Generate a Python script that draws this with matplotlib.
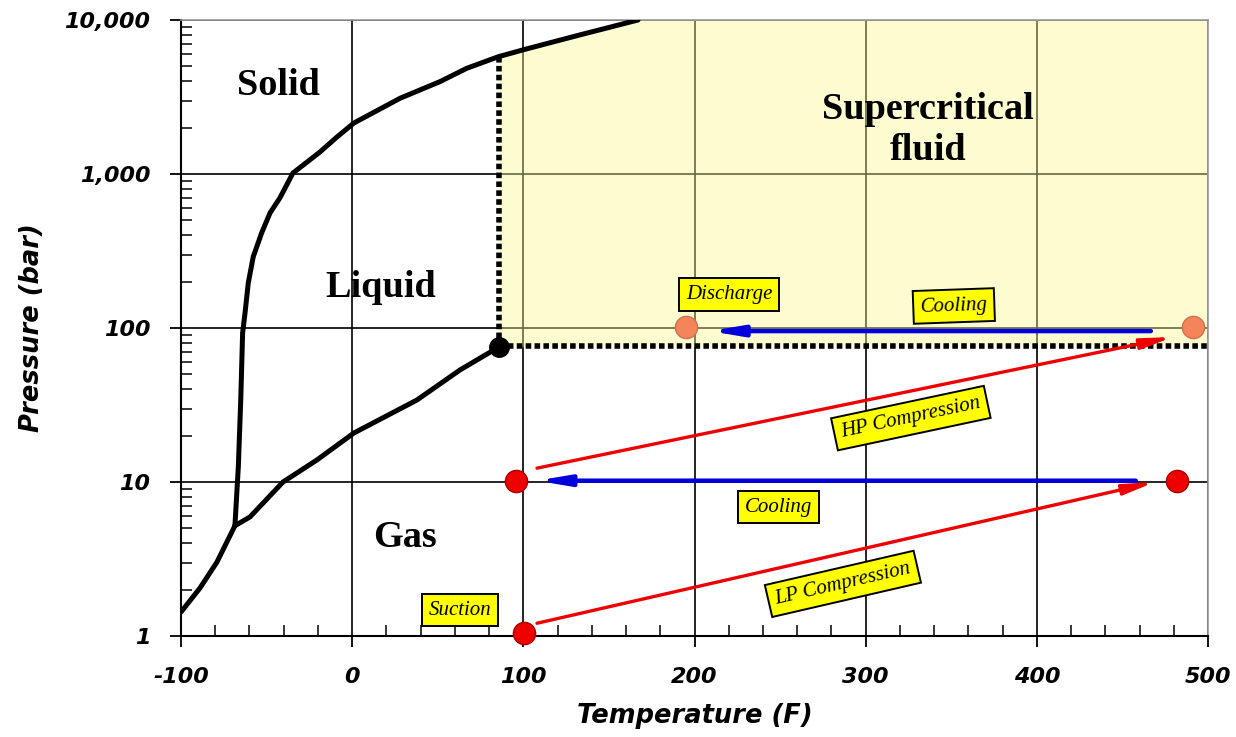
import matplotlib
matplotlib.use("Agg")
import matplotlib.pyplot as plt
from matplotlib.ticker import FixedLocator, MultipleLocator, LogLocator, NullFormatter
import numpy as np

# ---------------- data ----------------
# Melting curve (solid/liquid), T in F, P in bar
melt_T = [-68.5, -66.5, -65.1, -64.0, -62.6, -60.7, -57.8, -52.9, -48.0, -42.2,
          -34.6, -27.0, -18.8, -8.9, 1.0, 27.9, 51.3, 66.9, 85.5, 101, 133, 167]
melt_P = [5.2, 12.6, 34, 93, 125, 196, 290, 414, 558, 700,
          1015, 1180, 1390, 1738, 2143, 3100, 3980, 4855, 5780, 6450, 8000, 10000]
# Vaporization curve (liquid/gas)
vap_T = [-68.5, -59.7, -40.4, -20.6, 1.0, 37.9, 63.0, 85.5]
vap_P = [5.2, 5.93, 10, 13.9, 20.8, 34.1, 53.4, 75]
# Sublimation curve (solid/gas)
sub_T = [-100, -88.9, -79.0, -68.5]
sub_P = [1.43, 2.05, 3.02, 5.2]
# Critical point
crit_T, crit_P = 85.5, 75
# Process state points
red_T = [100.4, 95.5, 482]
red_P = [1.04, 10.2, 10.2]
orange_T = [195, 491]
orange_P = [101, 102]
# Process arrows: (T_start, P_start, T_end, P_end)
lp_comp = (108, 1.21, 469, 10.0)
hp_comp = (108, 12.3, 479.4, 87.4)
cool_lo = (457.8, 10.2, 107.8, 10.2)
cool_hi = (466.6, 95.5, 209, 95.5)

x_ticks = [-100, 0, 100, 200, 300, 400, 500]
y_ticks = [1, 10, 100, 1000, 10000]
y_tick_labels = ["1", "10", "100", "1,000", "10,000"]

# ---------------- figure ----------------
fig = plt.figure(figsize=(12.36, 7.37), dpi=100)
ax = fig.add_axes([181/1236, 101/737, 1027/1236, 616/737])
ax.set_yscale("log")
ax.set_xlim(-100, 500)
ax.set_ylim(1, 10000)

# grid
ax.set_axisbelow(True)
ax.grid(True, which="major", color="black", lw=1.2, zorder=0.5)

# supercritical region (bounded above by melting curve)
poly_T = [crit_T] + [t for t in melt_T if t >= crit_T] + [500, 500]
poly_P = [crit_P] + [p for t, p in zip(melt_T, melt_P) if t >= crit_T] + [10000, crit_P]
ax.fill(poly_T, poly_P, color="#f8f890", alpha=0.42, lw=0, zorder=1.5)

# phase boundaries
for T, P in [(melt_T, melt_P), (vap_T, vap_P), (sub_T, sub_P)]:
    ax.plot(T, P, color="black", lw=3.6, zorder=3,
            solid_capstyle="round", solid_joinstyle="round")

# dotted critical lines
ax.plot([crit_T, crit_T], [crit_P, melt_P[melt_T.index(85.5)]], color="black",
        lw=4, dashes=(1, 0.6), zorder=3)
ax.plot([crit_T, 500], [crit_P + 1.4, crit_P + 1.4], color="black",
        lw=4, dashes=(1, 0.6), zorder=3, clip_on=False)
ax.plot([crit_T], [crit_P], "o", color="black", ms=14, zorder=5)

# process arrows
def arrow(seg, color, lw):
    ax.annotate("", xy=(seg[2], seg[3]), xytext=(seg[0], seg[1]),
                arrowprops=dict(arrowstyle="-|>,head_length=1.3,head_width=0.22",
                                color=color, lw=lw, shrinkA=0, shrinkB=0,
                                mutation_scale=14),
                zorder=4)

arrow(lp_comp, "#ee0000", 2.4)
arrow(hp_comp, "#ee0000", 2.4)
arrow(cool_lo, "#0000dd", 3.2)
arrow(cool_hi, "#0000dd", 3.2)

# state points
ax.plot(red_T, red_P, "o", color="#ee0000", mec="#aa0000", mew=1, ms=16,
        zorder=6, clip_on=False, ls="none")
ax.plot(orange_T, orange_P, "o", color="#f4845a", mec="#d07050", mew=1, ms=16,
        zorder=6, clip_on=False, ls="none")

# region labels
serif = "Liberation Serif"
for txt, x, y in [("Solid", -42.8, 3780), ("Liquid", 16.8, 184), ("Gas", 30.8, 4.39)]:
    ax.text(x, y, txt, family=serif, weight="bold", fontsize=27.5,
            ha="center", va="center", zorder=7)
ax.text(336.3, 1930, "Supercritical\nfluid", family=serif, weight="bold",
        fontsize=27.5, ha="center", va="center", linespacing=1.22, zorder=7)

# boxed labels
for txt, x, y, rot in [("Discharge", 220.4, 165, 0), ("Cooling", 351.5, 139, 2),
                       ("HP Compression", 326.4, 26, 12), ("Cooling", 249.3, 6.88, 0),
                       ("LP Compression", 286.7, 2.18, 13), ("Suction", 63, 1.475, 0)]:
    ax.text(x, y, txt, family=serif, style="italic", fontsize=15,
            ha="center", va="center", rotation=rot, rotation_mode="anchor",
            bbox=dict(boxstyle="square,pad=0.33", fc="#ffff00", ec="black", lw=1.4),
            zorder=8)

# ticks
ax.xaxis.set_major_locator(FixedLocator(x_ticks))
ax.xaxis.set_minor_locator(MultipleLocator(20))
ax.yaxis.set_major_locator(FixedLocator(y_ticks))
ax.yaxis.set_minor_locator(LogLocator(base=10, subs=np.arange(2, 10)))
ax.yaxis.set_minor_formatter(NullFormatter())
ax.set_yticklabels(y_tick_labels)
ax.set_xticklabels([str(v) for v in x_ticks])
ax.tick_params(which="major", direction="out", length=8, width=1.3, pad=14,
               labelsize=16)
ax.tick_params(which="minor", direction="in", length=8, width=1.1)
for lab in ax.get_xticklabels() + ax.get_yticklabels():
    lab.set_fontweight("bold")
    lab.set_fontstyle("italic")

for s in ["left", "bottom"]:
    ax.spines[s].set_color("black")
    ax.spines[s].set_linewidth(1.5)
for s in ["top", "right"]:
    ax.spines[s].set_color("#999999")
    ax.spines[s].set_linewidth(1.2)

ax.set_xlabel("Temperature (F)", fontsize=18.5, weight="bold", style="italic", labelpad=12)
ax.set_ylabel("Pressure (bar)", fontsize=18.5, weight="bold", style="italic", labelpad=14)

fig.savefig("out.png", dpi=100)
